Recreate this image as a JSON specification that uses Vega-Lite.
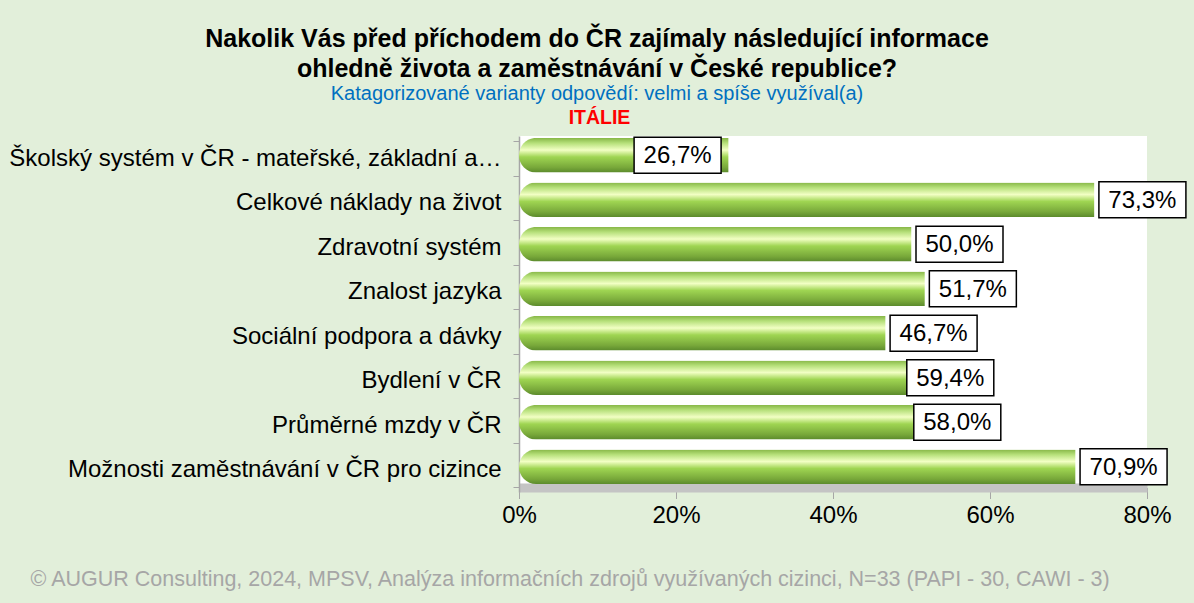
{
  "$schema": "https://vega.github.io/schema/vega-lite/v6.json",
  "width": 628,
  "height": 356,
  "autosize": {"type": "none"},
  "padding": {"left": 519, "top": 136, "right": 47, "bottom": 111},
  "background": "#E2EFDA",
  "config": {
    "font": "Liberation Sans",
    "view": {"fill": "white", "stroke": null}
  },
  "title": {
    "text": ["Nakolik Vás před příchodem do ČR zajímaly následující informace", "ohledně života a zaměstnávání v České republice?"],
    "subtitle": "Katagorizované varianty odpovědí: velmi a spíše využíval(a)",
    "anchor": "middle",
    "dx": -236,
    "offset": 3,
    "font": "Liberation Sans",
    "fontSize": 25,
    "fontWeight": "bold",
    "color": "black",
    "lineHeight": 30,
    "subtitleFont": "Liberation Sans",
    "subtitleFontSize": 20,
    "subtitleColor": "#0070C0",
    "subtitlePadding": 2
  },
  "data": {
    "values": [
      {"kategorie": "Školský systém v ČR - mateřské, základní a…", "podil": 26.7, "popisek": "26,7%"},
      {"kategorie": "Celkové náklady na život", "podil": 73.3, "popisek": "73,3%"},
      {"kategorie": "Zdravotní systém", "podil": 50.0, "popisek": "50,0%"},
      {"kategorie": "Znalost jazyka", "podil": 51.7, "popisek": "51,7%"},
      {"kategorie": "Sociální podpora a dávky", "podil": 46.7, "popisek": "46,7%"},
      {"kategorie": "Bydlení v ČR", "podil": 59.4, "popisek": "59,4%"},
      {"kategorie": "Průměrné mzdy v ČR", "podil": 58.0, "popisek": "58,0%"},
      {"kategorie": "Možnosti zaměstnávání v ČR pro cizince", "podil": 70.9, "popisek": "70,9%"}
    ]
  },
  "encoding": {
    "y": {
      "field": "kategorie",
      "type": "nominal",
      "sort": null,
      "scale": {"paddingInner": 0.22, "paddingOuter": 0.11},
      "axis": {
        "title": "ITÁLIE",
        "titleColor": "#FF0000",
        "titleFontSize": 19.5,
        "titleFontWeight": "bold",
        "titleAngle": 0,
        "titleX": 80,
        "titleY": -19,
        "titleAlign": "center",
        "titleBaseline": "middle",
        "domainColor": "#A6A6A6",
        "domainWidth": 1.5,
        "tickColor": "#A6A6A6",
        "tickBand": "extent",
        "tickSize": 6,
        "labelFontSize": 24,
        "labelColor": "black",
        "labelPadding": 12,
        "labelLimit": 0
      }
    },
    "x": {
      "field": "podil",
      "type": "quantitative",
      "scale": {"domain": [0, 80], "nice": false},
      "axis": {
        "values": [0, 20, 40, 60, 80],
        "labelExpr": "datum.value + '%'",
        "labelFlush": false,
        "grid": false,
        "offset": -4.5,
        "domainColor": "#C4C4C4",
        "domainWidth": 9,
        "tickColor": "#A6A6A6",
        "tickSize": 11,
        "labelFontSize": 24,
        "labelColor": "black",
        "labelPadding": 5,
        "title": "© AUGUR Consulting, 2024, MPSV, Analýza informačních zdrojů využívaných cizinci, N=33 (PAPI - 30, CAWI - 3)",
        "titleFontSize": 21.5,
        "titleFontWeight": "normal",
        "titleColor": "#A6A6A6",
        "titleX": -489,
        "titleY": 92,
        "titleAlign": "left",
        "titleBaseline": "middle"
      }
    }
  },
  "layer": [
    {
      "mark": {
        "type": "bar",
        "yOffset": -3,
        "cornerRadiusTopLeft": 17,
        "cornerRadiusBottomLeft": 17,
        "color": {
          "gradient": "linear",
          "x1": 0, "y1": 0, "x2": 0, "y2": 1,
          "stops": [
            {"offset": 0, "color": "#86B646"},
            {"offset": 0.15, "color": "#B6E07A"},
            {"offset": 0.35, "color": "#F2FFC4"},
            {"offset": 0.55, "color": "#9FD552"},
            {"offset": 0.85, "color": "#78A83A"},
            {"offset": 1, "color": "#5B8A2C"}
          ]
        }
      }
    },
    {
      "transform": [{"filter": "datum.podil < 30"}],
      "layer": [
        {"mark": {"type": "point", "shape": "M-1,-0.414L1,-0.414L1,0.414L-1,0.414Z", "size": 7569, "filled": true, "fill": "white", "stroke": "black", "strokeWidth": 1.5, "opacity": 1, "xOffset": -51, "yOffset": -3}},
        {"mark": {"type": "text", "fontSize": 24, "color": "black", "align": "center", "baseline": "middle", "dx": -51, "dy": -2}, "encoding": {"text": {"field": "popisek"}}}
      ]
    },
    {
      "transform": [{"filter": "datum.kategorie == 'Bydlení v ČR'"}],
      "layer": [
        {"mark": {"type": "point", "shape": "M-1,-0.414L1,-0.414L1,0.414L-1,0.414Z", "size": 7569, "filled": true, "fill": "white", "stroke": "black", "strokeWidth": 1.5, "opacity": 1, "xOffset": -35, "yOffset": -3}},
        {"mark": {"type": "text", "fontSize": 24, "color": "black", "align": "center", "baseline": "middle", "dx": -35, "dy": -2}, "encoding": {"text": {"field": "popisek"}}}
      ]
    },
    {
      "transform": [{"filter": "datum.kategorie == 'Průměrné mzdy v ČR'"}],
      "layer": [
        {"mark": {"type": "point", "shape": "M-1,-0.414L1,-0.414L1,0.414L-1,0.414Z", "size": 7569, "filled": true, "fill": "white", "stroke": "black", "strokeWidth": 1.5, "opacity": 1, "xOffset": -17, "yOffset": -3}},
        {"mark": {"type": "text", "fontSize": 24, "color": "black", "align": "center", "baseline": "middle", "dx": -17, "dy": -2}, "encoding": {"text": {"field": "popisek"}}}
      ]
    },
    {
      "transform": [{"filter": "datum.podil >= 30 && datum.kategorie != 'Bydlení v ČR' && datum.kategorie != 'Průměrné mzdy v ČR'"}],
      "layer": [
        {"mark": {"type": "point", "shape": "M-1,-0.414L1,-0.414L1,0.414L-1,0.414Z", "size": 7569, "filled": true, "fill": "white", "stroke": "black", "strokeWidth": 1.5, "opacity": 1, "xOffset": 48, "yOffset": -3}},
        {"mark": {"type": "text", "fontSize": 24, "color": "black", "align": "center", "baseline": "middle", "dx": 48, "dy": -2}, "encoding": {"text": {"field": "popisek"}}}
      ]
    }
  ]
}
